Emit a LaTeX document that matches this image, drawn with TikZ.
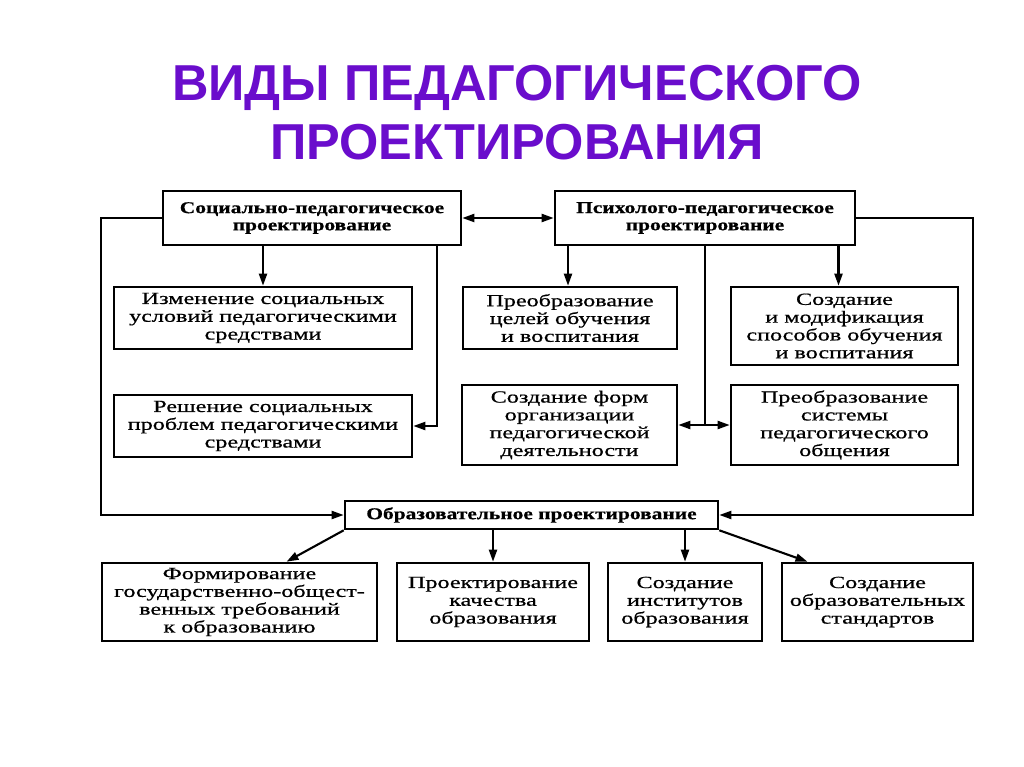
\documentclass[tikz,border=0pt]{standalone}
\usepackage{fontspec}
\setmainfont{Liberation Serif}[FakeStretch=1.42, FakeBold=0.7]
\newfontfamily\hdfont{Liberation Serif}[FakeStretch=1.3, FakeBold=0.6]
\newfontfamily\titlefont{Liberation Sans}
\usetikzlibrary{arrows.meta}
\definecolor{titlecol}{HTML}{6A0DCC}
\tikzset{
  x=1pt, y=-1pt,
  box/.style={draw, line width=2.6pt, inner sep=0pt, align=center,
    font=\fontsize{17}{17.8}\selectfont},
  hbox/.style={box, font=\hdfont\bfseries\fontsize{16.5}{17.2}\selectfont},
  conn/.style={line width=2.1pt, -{Triangle[length=12pt,width=8pt]}},
  dconn/.style={line width=2.1pt, {Triangle[length=12pt,width=8pt]}-{Triangle[length=12pt,width=8pt]}},
  plain/.style={line width=2.1pt},
  ttl/.style={font=\titlefont\bfseries\fontsize{50.5}{58}\selectfont, text=titlecol, anchor=base, inner sep=0pt}
}
\begin{document}
\begin{tikzpicture}
\useasboundingbox[fill=white] (0,0) rectangle (1024,767);
\node[ttl] (t1) at (517,101) {ВИДЫ ПЕДАГОГИЧЕСКОГО};
\node[ttl] (t2) at (517,160) {ПРОЕКТИРОВАНИЯ};

\node[hbox, minimum width=298pt, minimum height=54pt] (SP) at (312,218) {Социально-педагогическое\\проектирование};
\node[hbox, minimum width=300pt, minimum height=54pt] (PP) at (705,218) {Психолого-педагогическое\\проектирование};
\node[box, minimum width=298pt, minimum height=62pt] (A) at (263,318) {Изменение социальных\\условий педагогическими\\средствами};
\node[box, minimum width=298pt, minimum height=62pt] (B) at (263,426) {Решение социальных\\проблем педагогическими\\средствами};
\node[box, minimum width=214pt, minimum height=62pt] (C) at (570,318) {Преобразование\\целей обучения\\и воспитания};
\node[box, minimum width=227pt, minimum height=78pt] (E) at (844.5,326) {Создание\\и модификация\\способов обучения\\и воспитания};
\node[box, minimum width=215pt, minimum height=80pt] (D) at (569.5,425) {Создание форм\\организации\\педагогической\\деятельности};
\node[box, minimum width=227pt, minimum height=80pt] (F) at (844.5,425) {Преобразование\\системы\\педагогического\\общения};
\node[hbox, minimum width=373pt, minimum height=28pt] (OP) at (531.5,515) {Образовательное проектирование};
\node[box, minimum width=275pt, minimum height=78pt] (G) at (239.5,602) {Формирование\\государственно-общест-\\венных требований\\к образованию};
\node[box, minimum width=192pt, minimum height=78pt] (H) at (493,602) {Проектирование\\качества\\образования};
\node[box, minimum width=154pt, minimum height=78pt] (I) at (685,602) {Создание\\институтов\\образования};
\node[box, minimum width=191pt, minimum height=78pt] (J) at (877.5,602) {Создание\\образовательных\\стандартов};

\coordinate (cL) at (101,515);
\coordinate (cR) at (973,515);

\draw[dconn] (SP.east) -- (PP.west);
\draw[conn] (SP.west) -| (cL) -- (OP.west);
\draw[conn] (PP.east) -| (cR) -- (OP.east);
\draw[conn] (A.north |- SP.south) -- (A.north);
\draw[conn] ([xshift=125pt]SP.south) |- (B.east);
\draw[conn] ([xshift=-2pt]C.north |- PP.south) -- ([xshift=-2pt]C.north);
\draw[conn] ([xshift=-6pt]E.north |- PP.south) -- ([xshift=-6pt]E.north);
\draw[plain] (PP.south) -- (PP.south |- D.east) coordinate (m);
\draw[conn] (m) -- (D.east);
\draw[conn] (m) -- (F.west);
\draw[conn] (OP.south west) -- ([xshift=47pt]G.north);
\draw[conn] (H.north |- OP.south) -- (H.north);
\draw[conn] (I.north |- OP.south) -- (I.north);
\draw[conn] (OP.south east) -- ([xshift=-70pt]J.north);
\end{tikzpicture}
\end{document}
